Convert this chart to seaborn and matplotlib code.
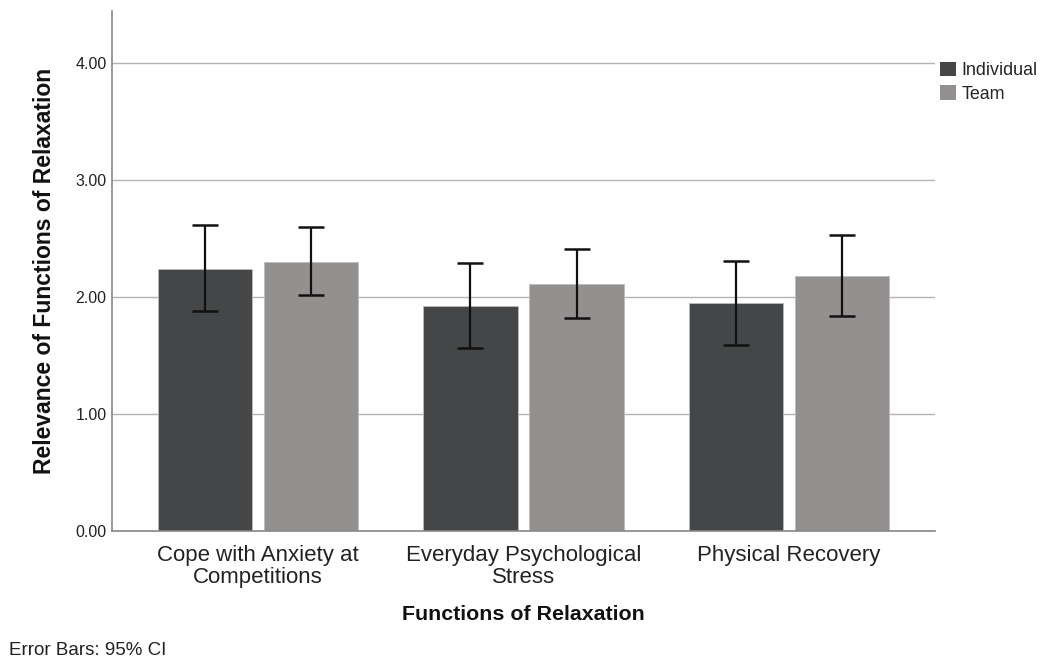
import matplotlib
matplotlib.use("Agg")
import matplotlib.pyplot as plt
import seaborn as sns
import pandas as pd

# Mean relevance ratings with 95% confidence limits
functions = ["Cope with Anxiety at\nCompetitions", "Everyday Psychological\nStress", "Physical Recovery"]
groups = ["Individual", "Team"]
individual_mean = [2.24, 1.92, 1.95]
team_mean = [2.30, 2.11, 2.18]
individual_lo = [1.88, 1.56, 1.59]
individual_hi = [2.61, 2.29, 2.31]
team_lo = [2.02, 1.82, 1.84]
team_hi = [2.60, 2.41, 2.53]
y_ticks = [0.0, 1.0, 2.0, 3.0, 4.0]

sns.set_theme(style="white")
plt.rcParams["font.family"] = ["Liberation Sans", "DejaVu Sans"]

df = pd.DataFrame({
    "Function": functions * 2,
    "Group": [groups[0]] * 3 + [groups[1]] * 3,
    "Mean": individual_mean + team_mean,
})

fig = plt.figure(figsize=(10.41, 6.58), dpi=100)
ax = fig.add_axes([0.1076, 0.193, 0.7906, 0.790])

palette = {"Individual": "#454648", "Team": "#94908f"}
sns.barplot(data=df, x="Function", y="Mean", hue="Group", order=functions,
            hue_order=groups, palette=palette, width=0.8, gap=0.11,
            errorbar=None, saturation=1, edgecolor="#bcbcbc", linewidth=0.6,
            zorder=2, ax=ax)

# Confidence-interval whiskers at each bar centre
lows = individual_lo + team_lo
highs = individual_hi + team_hi
means = individual_mean + team_mean
bars = [p for p in ax.patches if p.get_height() > 0][:6]
for bar, m, lo, hi in zip(bars, means, lows, highs):
    cx = bar.get_x() + bar.get_width() / 2
    ax.errorbar(cx, m, yerr=[[m - lo], [hi - m]], fmt="none", ecolor="#111111",
                elinewidth=1.6, capsize=9.5, capthick=1.8, zorder=3)

ax.set_xlim(-0.55, 2.55)
ax.set_ylim(0, 4.44)
ax.set_yticks(y_ticks)
ax.set_yticklabels([f"{v:.2f}" for v in y_ticks], fontsize=11.5, color="#222222")
ax.tick_params(axis="x", labelsize=16, colors="#222222", length=0, pad=10)
ax.tick_params(axis="y", length=0, pad=4)
for lbl in ax.get_xticklabels():
    lbl.set_linespacing(1.08)

ax.yaxis.grid(True, color="#b4b4b4", linewidth=1.0, zorder=0)
ax.set_axisbelow(True)
for side in ["top", "right"]:
    ax.spines[side].set_visible(False)
ax.spines["left"].set_color("#888888")
ax.spines["bottom"].set_color("#888888")
ax.spines["left"].set_linewidth(1.2)
ax.spines["bottom"].set_linewidth(1.2)

ax.set_xlabel("Functions of Relaxation", fontsize=15.4, fontweight="bold",
              color="#111111", labelpad=12)
ax.set_ylabel("Relevance of Functions of Relaxation", fontsize=16.5,
              fontweight="bold", color="#111111", labelpad=14)

leg = ax.legend(title=None, loc="upper left", bbox_to_anchor=(1.006, 0.903),
                frameon=False, fontsize=12.9, handlelength=0.9,
                handleheight=0.9, handletextpad=0.3, labelspacing=0.35,
                borderaxespad=0, borderpad=0)
for h in leg.legend_handles:
    h.set_edgecolor("none")

fig.text(0.009, 0.005, "Error Bars: 95% CI", fontsize=13.5, color="#222222")

fig.savefig("out.png", dpi=100)
